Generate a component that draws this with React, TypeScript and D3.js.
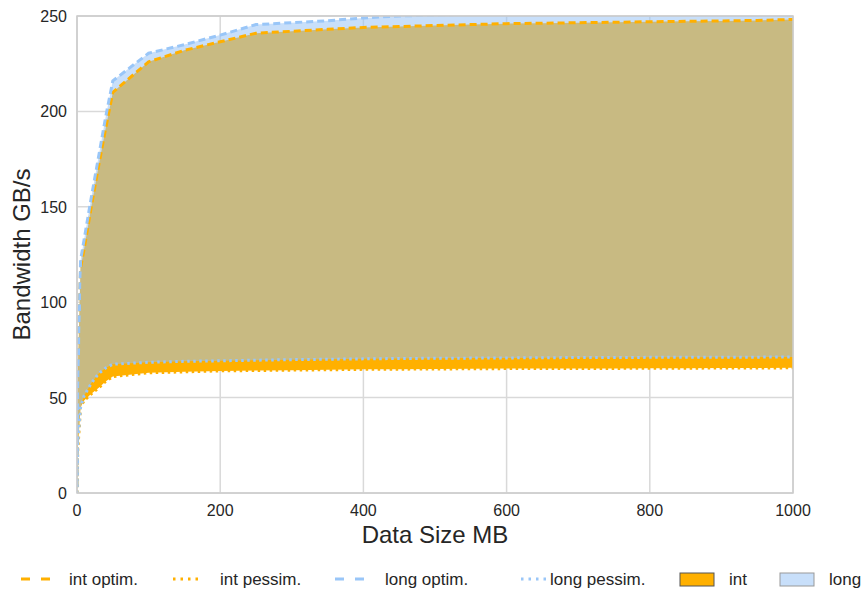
import React from "react";
import * as d3 from "d3";

const sizes = [0, 1, 5, 10, 20, 30, 40, 50, 100, 150, 200, 250, 300, 350, 400, 450, 500, 550, 600, 650, 700, 750, 800, 850, 900, 950, 1000];
const intOptim = [3, 60, 118, 128, 150, 171, 191, 210, 226, 232, 236.5, 241, 242, 243, 244, 244.5, 245, 245.5, 246, 246.2, 246.5, 246.7, 247, 247.2, 247.4, 247.7, 248.2];
const longOptim = [3, 55, 122, 133, 155, 176, 197, 216, 230.5, 235, 240, 245.5, 246.5, 247.5, 249, 250, 250.5, 251, 251, 251.2, 251.3, 251.5, 251.6, 251.7, 251.8, 251.9, 252];
const intPessim = [0, 22, 45, 48.5, 52, 55, 58.5, 61, 63, 63.5, 64, 64.2, 64.4, 64.6, 64.8, 64.9, 65, 65.1, 65.2, 65.2, 65.3, 65.3, 65.4, 65.4, 65.5, 65.5, 65.6];
const longPessim = [0, 26, 45, 51, 57.5, 62.5, 65.5, 67.5, 68.5, 69, 69.3, 69.6, 69.9, 70.1, 70.3, 70.5, 70.6, 70.7, 70.8, 70.9, 71, 71, 71.1, 71.1, 71.2, 71.2, 71.3];
const xTicks = [0, 200, 400, 600, 800, 1000];
const yTicks = [0, 50, 100, 150, 200, 250];

const W = 862, H = 589;
const L = 77, R = 793, T = 16, B = 493;
const ORANGE = "#ffb000";
const BLUE = "#99c6f8";
const BLUE_FILL = "#98c2f6";
const FILL_OP = 0.53;
const FONT = "'Liberation Sans', Arial, sans-serif";

export default function App() {
  const x = d3.scaleLinear().domain([0, 1000]).range([L, R]);
  const y = d3.scaleLinear().domain([0, 250]).range([B, T]);
  const idx = sizes.map((_, i) => i);
  const area = (lo: number[], hi: number[]) =>
    d3.area<number>().x((i) => x(sizes[i])).y0((i) => y(lo[i])).y1((i) => y(hi[i]))(idx) || "";
  const line = (v: number[]) => d3.line<number>().x((i) => x(sizes[i])).y((i) => y(v[i]))(idx) || "";

  const legendY = 579;
  const legendItems = [
    { color: ORANGE, dash: "9,11", x0: 21, len: 31, label: "int optim.", tx: 69 },
    { color: ORANGE, dash: "2.5,5", x0: 173, len: 27, label: "int pessim.", tx: 220 },
    { color: BLUE, dash: "9,11", x0: 335, len: 31, label: "long optim.", tx: 385 },
    { color: BLUE, dash: "2.5,5", x0: 521, len: 27, label: "long pessim.", tx: 550 },
  ];

  return (
    <svg width={W} height={H} style={{ position: "absolute", left: 0, top: 0, background: "#fff" }} fontFamily={FONT}>
      <defs>
        <clipPath id="plotclip">
          <rect x={L} y={T} width={R - L} height={B - T} />
        </clipPath>
      </defs>
      <rect x={L} y={T} width={R - L} height={B - T} fill="#fff" />
      {xTicks.map((t) => (
        <line key={"gx" + t} x1={x(t)} x2={x(t)} y1={T} y2={B} stroke="#d9d9d9" strokeWidth={1.5} />
      ))}
      {yTicks.map((t) => (
        <line key={"gy" + t} x1={L} x2={R} y1={y(t)} y2={y(t)} stroke="#d9d9d9" strokeWidth={1.5} />
      ))}
      <g clipPath="url(#plotclip)">
        <path d={area(intPessim, intOptim)} fill={ORANGE} />
        <path d={area(longPessim, longOptim)} fill={BLUE_FILL} fillOpacity={FILL_OP} />
        <path d={line(intOptim)} fill="none" stroke={ORANGE} strokeWidth={3} strokeDasharray="7,4" />
        <path d={line(intPessim)} fill="none" stroke={ORANGE} strokeWidth={3} strokeDasharray="2.5,3.5" />
        <path d={line(longOptim)} fill="none" stroke={BLUE} strokeWidth={3} strokeDasharray="7,4" />
        <path d={line(longPessim)} fill="none" stroke={BLUE} strokeWidth={3} strokeDasharray="2.5,3.5" />
      </g>
      <rect x={L} y={T} width={R - L} height={B - T} fill="none" stroke="#cccccc" strokeWidth={1.5} />
      {xTicks.map((t) => (
        <text key={"tx" + t} x={x(t)} y={516} textAnchor="middle" fontSize={16} fill="#262626">{t}</text>
      ))}
      {yTicks.map((t) => (
        <text key={"ty" + t} x={67} y={y(t) + 6} textAnchor="end" fontSize={16} fill="#262626">{t}</text>
      ))}
      <text x={(L + R) / 2} y={543} textAnchor="middle" fontSize={24} fill="#262626">Data Size MB</text>
      <text transform={`translate(30,${(T + B) / 2}) rotate(-90)`} textAnchor="middle" fontSize={24} fill="#262626">Bandwidth GB/s</text>
      {legendItems.map((it) => (
        <g key={it.label}>
          <line x1={it.x0} x2={it.x0 + it.len} y1={legendY} y2={legendY} stroke={it.color} strokeWidth={3} strokeDasharray={it.dash} />
          <text x={it.tx} y={legendY + 6} fontSize={17} fill="#262626">{it.label}</text>
        </g>
      ))}
      <rect x={680} y={573} width={34} height={13} fill={ORANGE} stroke="#555" strokeWidth={1} />
      <text x={729} y={legendY + 6} fontSize={17} fill="#262626">int</text>
      <rect x={780} y={573} width={34} height={13} fill={BLUE_FILL} fillOpacity={FILL_OP} stroke="#999" strokeWidth={1} />
      <text x={829} y={legendY + 6} fontSize={17} fill="#262626">long</text>
    </svg>
  );
}
